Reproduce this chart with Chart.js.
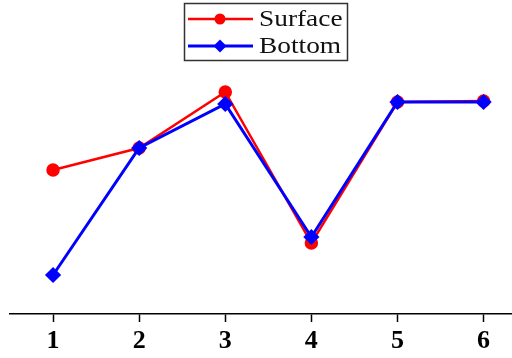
<!DOCTYPE html>
<html><head><meta charset="utf-8">
<script src="https://cdn.jsdelivr.net/npm/chart.js@4.4.0/dist/chart.umd.min.js"></script>
<style>html,body{margin:0;padding:0;background:#fff}#wrap{width:512px;height:358px;position:relative}</style>
</head><body><div id="wrap"><canvas id="c" width="512" height="358"></canvas></div>
<script>
const categories = [1, 2, 3, 4, 5, 6];
const surface = [144, 166, 222, 71, 212, 213];
const bottom = [39, 166, 210, 77, 212, 212];
const seriesNames = ['Surface', 'Bottom'];

const legendPlugin = {
  id: 'boxLegend',
  afterDraw(chart) {
    const ctx = chart.ctx;
    ctx.save();
    ctx.strokeStyle = '#333';
    ctx.lineWidth = 1.5;
    ctx.strokeRect(184.5, 3.5, 163, 57);
    const rows = [
      {name: seriesNames[0], color: '#ff0000', y: 19, style: 'circle', lw: 2.5},
      {name: seriesNames[1], color: '#0000ff', y: 46, style: 'diamond', lw: 3}
    ];
    rows.forEach(r => {
      ctx.strokeStyle = r.color; ctx.fillStyle = r.color; ctx.lineWidth = r.lw;
      ctx.beginPath(); ctx.moveTo(188, r.y); ctx.lineTo(253, r.y); ctx.stroke();
      ctx.beginPath();
      if (r.style === 'circle') { ctx.arc(220, r.y, 5.5, 0, Math.PI * 2); }
      else { ctx.moveTo(220, r.y - 6.5); ctx.lineTo(226.5, r.y); ctx.lineTo(220, r.y + 6.5); ctx.lineTo(213.5, r.y); ctx.closePath(); }
      ctx.fill();
      ctx.save();
      ctx.translate(259, r.y + 1);
      ctx.scale(1.14, 1);
      ctx.fillStyle = '#111';
      ctx.font = '24px "Liberation Serif", "Times New Roman", serif';
      ctx.textBaseline = 'middle';
      ctx.fillText(r.name, 0, 0);
      ctx.restore();
    });
    ctx.restore();
  }
};

new Chart(document.getElementById('c'), {
  type: 'line',
  data: {
    datasets: [
      {label: seriesNames[1], data: categories.map((c, i) => ({x: c, y: bottom[i]})), borderColor: '#0000ff', backgroundColor: '#0000ff', borderWidth: 3, pointStyle: 'rectRot', pointRadius: 6, order: 0},
      {label: seriesNames[0], data: categories.map((c, i) => ({x: c, y: surface[i]})), borderColor: '#ff0000', backgroundColor: '#ff0000', borderWidth: 2.5, pointStyle: 'circle', pointRadius: 5.5, order: 1}
    ]
  },
  options: {
    responsive: false, animation: false,
    layout: {autoPadding: false, padding: {left: 10, right: 0, top: 0, bottom: 0}},
    plugins: {legend: {display: false}, tooltip: {enabled: false}},
    scales: {
      x: {
        type: 'linear', min: 0.5, max: 6.33,
        afterBuildTicks: s => { s.ticks = categories.map(v => ({value: v})); },
        afterFit: s => { s.height = 44; },
        grid: {drawOnChartArea: false, drawTicks: true, tickLength: 8, tickWidth: 1.5, tickColor: '#000'},
        border: {color: '#000', width: 1.5},
        ticks: {color: '#000', font: {family: '"Liberation Serif", "Times New Roman", serif', size: 26, weight: 'bold', lineHeight: 1.1}, padding: 5, maxRotation: 0}
      },
      y: {display: false, min: 0, max: 314}
    }
  },
  plugins: [legendPlugin]
});
</script></body></html>
